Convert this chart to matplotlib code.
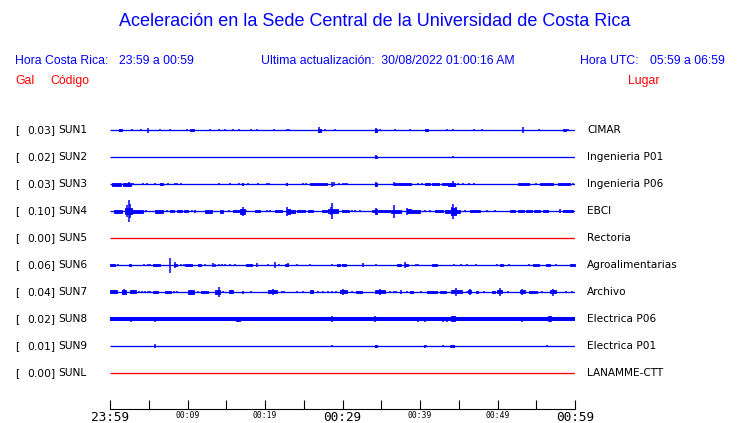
import matplotlib
matplotlib.use("Agg")
import matplotlib.pyplot as plt

# ---------------- data ----------------
codes = ["SUN1", "SUN2", "SUN3", "SUN4", "SUN5", "SUN6", "SUN7", "SUN8", "SUN9", "SUNL"]
places = ["CIMAR", "Ingenieria P01", "Ingenieria P06", "EBCI", "Rectoria",
          "Agroalimentarias", "Archivo", "Electrica P06", "Electrica P01", "LANAMME-CTT"]
peak_gal = [0.03, 0.02, 0.03, 0.10, 0.00, 0.06, 0.04, 0.02, 0.01, 0.00]

tick_minutes = list(range(0, 61, 5))
tick_labels = ["23:59", "", "00:09", "", "00:19", "", "00:29", "", "00:39", "", "00:49", "", "00:59"]
big_labels = ["23:59", "00:29", "00:59"]

# background noise level per trace (relative amplitude)
noise = [0, 0, 0, 0, 0, 0, 0, 1.7, 0, 0]

# spikes: (minute, relative amplitude)
sun1_spikes = [(1.3, 1.5), (2.8, 1), (4.0, 1), (4.9, 2.5), (6.5, 1), (7.8, 0.7), (9.9, 0.7),
               (12.9, 1.2), (14.0, 1), (14.9, 1), (15.9, 0.7), (16.6, 1), (18.2, 1), (19.0, 0.7),
               (21.2, 1), (22.8, 1), (23.1, 1), (27.0, 3), (27.8, 1), (29.0, 1), (34.3, 2.5),
               (34.9, 1), (36.8, 1), (38.7, 0.7), (43.5, 1), (44.3, 1), (47.0, 1), (48.0, 1),
               (51.4, 0.5), (53.3, 3), (55.3, 1), (59.1, 1)]
sun2_spikes = [(34.3, 2), (44.2, 0.8)]
sun3_spikes = [(2.5, 2.5), (3.0, 1), (4.3, 0.8), (4.8, 1), (5.8, 0.8), (6.6, 1.5), (7.5, 0.8),
               (8.4, 1), (8.7, 1.2), (9.2, 0.8), (14.1, 0.8), (15.5, 0.8), (16.6, 1), (17.1, 1.5),
               (17.8, 1), (19.1, 0.8), (20.2, 1), (20.5, 1), (22.8, 1.5), (24.9, 0.8), (25.3, 1),
               (28.6, 2.5), (28.9, 2), (29.5, 1), (30.1, 0.8), (30.3, 1), (30.6, 1), (32.6, 0.5),
               (34.3, 2.5), (36.7, 2), (39.8, 1), (40.2, 1), (44.3, 3), (44.9, 1), (45.5, 0.8),
               (46.3, 1), (47.0, 0.8), (50.7, 0.5), (55.0, 1), (59.8, 1)]
sun4_spikes = [(2.4, 11.0), (2.2, 6), (2.6, 7), (4.7, 1), (7.3, 1), (10.6, 1), (11.0, 1.5),
               (15.3, 1), (17.1, 4.5), (17.6, 1), (20.2, 1), (20.6, 1), (22.8, 4.5), (28.7, 8),
               (28.5, 4), (30.1, 1), (31.2, 1), (31.6, 1), (32.3, 1), (34.3, 3), (36.7, 6.5),
               (38.3, 3.5), (38.6, 2.5), (40.6, 1), (41.3, 1), (44.3, 7.5), (44.1, 4), (44.6, 4),
               (45.8, 1), (48.6, 1), (49.7, 1), (58.1, 2)]
sun5_spikes = []
sun6_spikes = [(1.0, 0.8), (4.4, 0.8), (4.9, 1), (5.2, 1), (7.8, 7.5), (8.4, 3), (9.2, 1), (9.5, 1),
               (12.2, 1), (13.3, 2), (13.5, 1.5), (14.0, 1), (14.4, 1), (14.8, 1), (15.5, 1),
               (16.1, 1), (19.0, 2), (20.4, 1), (21.3, 3), (21.8, 1), (23.0, 2), (24.1, 1),
               (25.8, 1), (28.7, 1), (30.1, 1), (32.6, 2), (34.3, 1), (38.0, 3), (39.5, 1),
               (39.8, 1), (44.4, 1), (45.3, 1), (46.0, 1), (47.2, 1), (49.9, 1), (51.5, 1),
               (54.0, 1), (57.6, 1)]
sun7_spikes = [(1.8, 3), (3.7, 1), (4.1, 1), (4.5, 1), (4.9, 1), (5.2, 1), (8.3, 1), (8.6, 1),
               (10.5, 2.5), (11.4, 1), (14.0, 5), (14.6, 1), (15.6, 2), (18.2, 1), (21.0, 3),
               (22.2, 1), (22.5, 1), (24.1, 1), (24.9, 1), (26.0, 2), (26.9, 1), (27.5, 1),
               (28.1, 1), (28.7, 1), (29.2, 1), (30.1, 3), (31.2, 1), (34.8, 3), (36.1, 1),
               (36.6, 1), (36.9, 1), (37.6, 2), (38.3, 1), (40.1, 1), (44.6, 4), (46.0, 1),
               (46.4, 3), (48.3, 1), (50.3, 4), (51.3, 1), (53.2, 3), (55.7, 1), (57.2, 3.5),
               (58.9, 1), (59.6, 1)]
sun8_spikes = [(2.7, 2.5), (5.8, 2.5), (10.5, 2), (12.0, 2), (16.5, 2.5), (18.8, 2), (28.7, 3),
               (34.2, 3), (38.5, 2), (39.8, 2.5), (40.6, 2.5), (43.0, 2.5), (43.5, 2.5), (44.2, 3),
               (45.4, 2), (47.7, 2), (53.1, 2.5), (56.7, 3)]
sun9_spikes = [(5.8, 2), (28.7, 1), (34.3, 1.5), (40.6, 1.5), (40.8, 1.2), (43.0, 1.2),
               (44.0, 1.5), (44.4, 1.5), (56.4, 1.2)]
sunl_spikes = []

# bursts: (start minute, end minute, relative amplitude)
sun1_bursts = [(1.1, 1.5, 1.3), (10.3, 10.8, 1.3), (26.8, 27.2, 1.5), (34.2, 34.4, 1.5),
               (40.6, 41.0, 1.3), (58.4, 58.8, 1.3)]
sun2_bursts = [(34.2, 34.4, 1.3)]
sun3_bursts = [(0.3, 1.4, 1.5), (1.7, 2.7, 1.5), (6.5, 6.8, 1.2), (17.0, 17.2, 1.2),
               (22.7, 22.9, 1.2), (25.8, 26.4, 1.2), (26.6, 27.2, 1.2), (27.4, 28.0, 1.2),
               (34.2, 34.4, 1.5), (36.7, 37.0, 1.3), (37.2, 38.3, 1.0), (38.5, 38.9, 1.3),
               (40.6, 41.3, 1.2), (41.5, 42.4, 1.0), (42.8, 43.6, 1.0), (43.6, 44.5, 1.5),
               (52.7, 53.0, 1.0), (53.2, 54.0, 1.2), (55.5, 56.1, 1.0), (56.3, 57.2, 1.2),
               (57.8, 58.3, 1.0), (58.5, 59.4, 1.0)]
sun4_bursts = [(0.5, 1.5, 1.5), (1.9, 2.8, 3.0), (2.8, 4.3, 1.5), (5.8, 6.9, 1.5), (7.7, 8.3, 1.3),
               (8.6, 9.3, 1.3), (9.5, 10.1, 1.3), (12.3, 13.1, 1.5), (14.2, 14.6, 1.5),
               (15.9, 16.8, 1.2), (16.8, 17.4, 2.5), (18.7, 19.4, 1.3), (21.3, 22.2, 1.3),
               (22.8, 23.2, 2.5), (23.2, 23.9, 1.5), (24.1, 25.2, 1.3), (25.6, 26.2, 1.2),
               (27.3, 28.0, 1.3), (28.1, 29.4, 2.0), (29.9, 30.8, 1.3), (33.8, 34.2, 1.3),
               (34.2, 34.5, 2.5), (34.6, 36.1, 1.3), (36.3, 37.6, 1.5), (38.3, 38.9, 2.0),
               (38.9, 40.0, 1.5), (41.9, 43.0, 1.3), (43.2, 43.9, 1.5), (44.0, 44.6, 3.5),
               (44.6, 45.2, 1.5), (46.5, 47.7, 1.2), (51.6, 52.3, 1.0), (52.6, 53.4, 1.0),
               (53.7, 54.5, 1.0), (54.7, 55.5, 1.0), (55.9, 56.5, 1.0), (58.5, 59.7, 1.2)]
sun5_bursts = []
sun6_bursts = [(0.0, 0.6, 1.3), (2.4, 2.7, 1.3), (5.6, 6.5, 1.3), (8.3, 8.6, 1.5), (9.7, 10.6, 1.3),
               (11.3, 11.7, 1.3), (17.6, 18.3, 1.3), (22.6, 23.0, 1.2), (29.3, 29.7, 1.2),
               (29.9, 30.5, 1.2), (37.0, 37.5, 1.2), (38.0, 38.4, 1.3), (41.6, 42.2, 1.2),
               (50.3, 50.7, 1.2), (54.6, 55.4, 1.0), (56.3, 56.8, 1.3), (59.4, 60.0, 1.2)]
sun7_bursts = [(0.0, 0.9, 1.5), (1.5, 2.1, 2.0), (2.6, 3.4, 1.5), (5.6, 6.2, 1.3), (7.1, 7.9, 1.3),
               (10.0, 10.9, 1.8), (11.8, 12.7, 1.3), (13.5, 14.2, 1.8), (15.4, 15.9, 1.5),
               (17.0, 17.2, 1.2), (20.4, 21.5, 1.5), (25.8, 26.2, 1.5), (29.7, 30.6, 1.5),
               (31.7, 32.5, 1.3), (34.2, 35.5, 1.5), (38.7, 39.1, 1.2), (40.9, 42.2, 1.3),
               (42.6, 43.4, 1.3), (44.0, 45.4, 1.5), (46.2, 46.6, 1.5), (47.2, 47.5, 1.2),
               (49.3, 49.7, 1.3), (49.9, 50.6, 1.5), (52.9, 53.5, 1.5), (54.0, 55.1, 1.3),
               (56.8, 57.6, 1.5)]
sun8_bursts = [(16.3, 16.8, 2.2), (44.0, 44.5, 2.5), (56.6, 56.9, 2.5)]
sun9_bursts = [(34.2, 34.4, 1.2), (44.0, 44.4, 1.2)]
sunl_bursts = []

spikes = [sun1_spikes, sun2_spikes, sun3_spikes, sun4_spikes, sun5_spikes,
          sun6_spikes, sun7_spikes, sun8_spikes, sun9_spikes, sunl_spikes]
bursts = [sun1_bursts, sun2_bursts, sun3_bursts, sun4_bursts, sun5_bursts,
          sun6_bursts, sun7_bursts, sun8_bursts, sun9_bursts, sunl_bursts]

# ---------------- drawing ----------------
W, H = 740, 423
BLUE = "#0000ff"
RED = "#ff0000"
AMP = 1.0 / 27.0   # relative amplitude -> trace spacing

fig = plt.figure(figsize=(W / 100, H / 100), dpi=100)
fig.patch.set_facecolor("white")

def fx(px):
    return px / W

def fy(py):
    return 1 - py / H

ax = fig.add_axes([fx(110), fy(409), fx(575) - fx(110), fy(115) - fy(409)])
ax.set_xlim(0, 60)
ax.set_ylim(-(409 - 130) / 27, (130 - 115) / 27)

for i, code in enumerate(codes):
    y0 = -i
    col = RED if peak_gal[i] == 0 else BLUE
    ax.hlines(y0, 0, 60, color=col, lw=0.95)
    if noise[i] > 0:
        ax.fill_between([0, 60], y0 - noise[i] * AMP, y0 + noise[i] * AMP, color=col, lw=0)
    for (t0, t1, a) in bursts[i]:
        ax.fill_between([t0, t1], y0 - a * AMP, y0 + a * AMP, color=col, lw=0.6, edgecolor=col)
    if spikes[i]:
        ts = [s[0] for s in spikes[i]]
        amps = [s[1] for s in spikes[i]]
        ax.vlines(ts, [y0 - a * AMP for a in amps], [y0 + a * AMP for a in amps], color=col, lw=1.1)

    ty = fy(130 + 27 * i)
    fig.text(fx(15), ty, "[", fontsize=7.7, family="DejaVu Sans", va="center", ha="left")
    fig.text(fx(27), ty, f"{peak_gal[i]:.2f}]", fontsize=7.7, family="DejaVu Sans", va="center", ha="left")
    fig.text(fx(58), ty, code, fontsize=7.7, family="DejaVu Sans", va="center", ha="left")
    fig.text(fx(587), ty, places[i], fontsize=7.6, family="DejaVu Sans", va="center", ha="left")

for s in ["left", "right", "top"]:
    ax.spines[s].set_visible(False)
ax.spines["bottom"].set_linewidth(0.8)
ax.set_yticks([])
ax.set_xticks(tick_minutes)
ax.set_xticklabels(tick_labels)
ax.tick_params(axis="x", direction="in", length=6.3, width=0.8, pad=1.5)
for lab in ax.get_xticklabels():
    lab.set_family("DejaVu Sans Mono")
    lab.set_fontsize(9.2 if lab.get_text() in big_labels else 5.8)

# ---------------- header ----------------
hdr = dict(family="Liberation Sans", color=BLUE, va="center")
fig.text(fx(375), fy(22), "Aceleración en la Sede Central de la Universidad de Costa Rica",
         fontsize=13, ha="center", **hdr)
fig.text(fx(15), fy(61), "Hora Costa Rica:", fontsize=8.8, ha="left", **hdr)
fig.text(fx(119), fy(61), "23:59 a 00:59", fontsize=8.8, ha="left", **hdr)
fig.text(fx(261), fy(61), "Ultima actualización:  30/08/2022 01:00:16 AM", fontsize=8.8, ha="left", **hdr)
fig.text(fx(580), fy(61), "Hora UTC:", fontsize=8.8, ha="left", **hdr)
fig.text(fx(650), fy(61), "05:59 a 06:59", fontsize=8.8, ha="left", **hdr)

red = dict(family="Liberation Sans", color=RED, va="center", fontsize=8.8)
fig.text(fx(15), fy(81), "Gal", ha="left", **red)
fig.text(fx(50), fy(81), "Código", ha="left", **red)
fig.text(fx(628), fy(81), "Lugar", ha="left", **red)

fig.savefig("out.png", dpi=100, facecolor="white")
